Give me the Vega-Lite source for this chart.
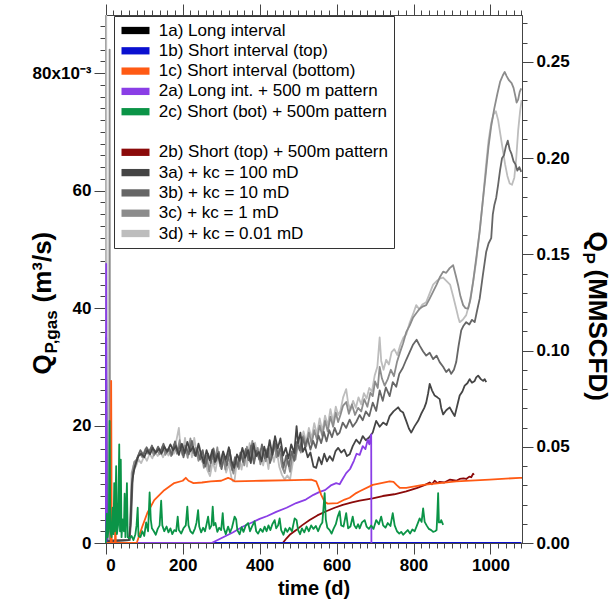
{
"$schema":"https://vega.github.io/schema/vega-lite/v6.json",
"width":417,"height":528,
"autosize":{"type":"none"},
"padding":{"left":105,"top":15,"right":89,"bottom":65},
"config":{"font":"Liberation Sans","view":{"stroke":"#444","strokeWidth":1},
"axis":{"domainColor":"#444","tickColor":"#444","tickWidth":1,"domainWidth":1,"grid":false,"labelFont":"Liberation Sans","labelFontWeight":"bold","labelFontSize":17,"labelColor":"#000","titleFont":"Liberation Sans","titleFontWeight":"bold","titleColor":"#000"}},
"resolve":{"scale":{"y":"independent"},"axis":{"x":"independent","y":"independent"}},
"layer":[
{"data":{"values":[
{"run":"3d","day":0,"q":0},{"run":"3d","day":1,"q":0.097},{"run":"3d","day":2,"q":0.056},{"run":"3d","day":3,"q":0.0005},{"run":"3d","day":62,"q":0.0005},{"run":"3d","day":64,"q":0.005},{"run":"3d","day":67,"q":0.0119},{"run":"3d","day":72,"q":0.0132},{"run":"3d","day":78,"q":0.013},{"run":"3d","day":85,"q":0.0142},{"run":"3d","day":92,"q":0.0136},{"run":"3d","day":100,"q":0.0148},{"run":"3d","day":107,"q":0.014},{"run":"3d","day":114,"q":0.0152},{"run":"3d","day":121,"q":0.0144},{"run":"3d","day":128,"q":0.0156},{"run":"3d","day":135,"q":0.0148},{"run":"3d","day":142,"q":0.0155},{"run":"3d","day":149,"q":0.0146},{"run":"3d","day":156,"q":0.0158},{"run":"3d","day":163,"q":0.0149},{"run":"3d","day":170,"q":0.016},{"run":"3d","day":177,"q":0.0152},{"run":"3d","day":184,"q":0.0176},{"run":"3d","day":190,"q":0.0196},{"run":"3d","day":194,"q":0.0164},{"run":"3d","day":200,"q":0.0152},{"run":"3d","day":206,"q":0.0179},{"run":"3d","day":212,"q":0.0154},{"run":"3d","day":218,"q":0.0174},{"run":"3d","day":224,"q":0.0146},{"run":"3d","day":230,"q":0.0179},{"run":"3d","day":236,"q":0.0152},{"run":"3d","day":243,"q":0.0166},{"run":"3d","day":250,"q":0.0138},{"run":"3d","day":257,"q":0.0149},{"run":"3d","day":264,"q":0.0124},{"run":"3d","day":271,"q":0.0114},{"run":"3d","day":278,"q":0.0138},{"run":"3d","day":285,"q":0.0122},{"run":"3d","day":292,"q":0.015},{"run":"3d","day":299,"q":0.0128},{"run":"3d","day":306,"q":0.0146},{"run":"3d","day":313,"q":0.012},{"run":"3d","day":320,"q":0.0135},{"run":"3d","day":327,"q":0.011},{"run":"3d","day":331,"q":0.0105},{"run":"3d","day":335,"q":0.0108},{"run":"3d","day":339,"q":0.0129},{"run":"3d","day":346,"q":0.0148},{"run":"3d","day":353,"q":0.0125},{"run":"3d","day":360,"q":0.0156},{"run":"3d","day":367,"q":0.013},{"run":"3d","day":374,"q":0.017},{"run":"3d","day":381,"q":0.0142},{"run":"3d","day":388,"q":0.0171},{"run":"3d","day":395,"q":0.0148},{"run":"3d","day":402,"q":0.016},{"run":"3d","day":409,"q":0.0132},{"run":"3d","day":416,"q":0.0154},{"run":"3d","day":423,"q":0.0126},{"run":"3d","day":430,"q":0.0162},{"run":"3d","day":437,"q":0.0138},{"run":"3d","day":444,"q":0.0159},{"run":"3d","day":451,"q":0.013},{"run":"3d","day":458,"q":0.0116},{"run":"3d","day":465,"q":0.0108},{"run":"3d","day":472,"q":0.0115},{"run":"3d","day":479,"q":0.0108},{"run":"3d","day":486,"q":0.0136},{"run":"3d","day":493,"q":0.0152},{"run":"3d","day":500,"q":0.0178},{"run":"3d","day":507,"q":0.0162},{"run":"3d","day":514,"q":0.019},{"run":"3d","day":521,"q":0.0172},{"run":"3d","day":528,"q":0.0196},{"run":"3d","day":535,"q":0.0178},{"run":"3d","day":542,"q":0.0204},{"run":"3d","day":549,"q":0.0185},{"run":"3d","day":556,"q":0.0212},{"run":"3d","day":563,"q":0.019},{"run":"3d","day":570,"q":0.0217},{"run":"3d","day":577,"q":0.02},{"run":"3d","day":584,"q":0.0228},{"run":"3d","day":591,"q":0.0206},{"run":"3d","day":598,"q":0.0232},{"run":"3d","day":604,"q":0.0218},{"run":"3d","day":610,"q":0.0225},{"run":"3d","day":617,"q":0.0248},{"run":"3d","day":621,"q":0.0255},{"run":"3d","day":625,"q":0.0262},{"run":"3d","day":630,"q":0.0238},{"run":"3d","day":636,"q":0.0226},{"run":"3d","day":643,"q":0.0242},{"run":"3d","day":650,"q":0.023},{"run":"3d","day":657,"q":0.0248},{"run":"3d","day":664,"q":0.0236},{"run":"3d","day":671,"q":0.0255},{"run":"3d","day":678,"q":0.0246},{"run":"3d","day":685,"q":0.0264},{"run":"3d","day":692,"q":0.0258},{"run":"3d","day":699,"q":0.0285},{"run":"3d","day":706,"q":0.03},{"run":"3d","day":712,"q":0.035},{"run":"3d","day":716,"q":0.031},{"run":"3d","day":722,"q":0.0295},{"run":"3d","day":729,"q":0.0312},{"run":"3d","day":736,"q":0.0304},{"run":"3d","day":743,"q":0.0325},{"run":"3d","day":750,"q":0.033},{"run":"3d","day":758,"q":0.032},{"run":"3d","day":766,"q":0.0338},{"run":"3d","day":774,"q":0.035},{"run":"3d","day":781,"q":0.0355},{"run":"3d","day":790,"q":0.0375},{"run":"3d","day":799,"q":0.039},{"run":"3d","day":807,"q":0.0405},{"run":"3d","day":815,"q":0.0398},{"run":"3d","day":823,"q":0.0406},{"run":"3d","day":833,"q":0.041},{"run":"3d","day":842,"q":0.0425},{"run":"3d","day":851,"q":0.044},{"run":"3d","day":860,"q":0.0446},{"run":"3d","day":868,"q":0.045},{"run":"3d","day":877,"q":0.0452},{"run":"3d","day":886,"q":0.0446},{"run":"3d","day":895,"q":0.044},{"run":"3d","day":903,"q":0.042},{"run":"3d","day":911,"q":0.0399},{"run":"3d","day":916,"q":0.0385},{"run":"3d","day":920,"q":0.0376},{"run":"3d","day":928,"q":0.038},{"run":"3d","day":937,"q":0.0388},{"run":"3d","day":946,"q":0.041},{"run":"3d","day":955,"q":0.0445},{"run":"3d","day":963,"q":0.048},{"run":"3d","day":972,"q":0.0531},{"run":"3d","day":981,"q":0.0588},{"run":"3d","day":988,"q":0.064},{"run":"3d","day":995,"q":0.0685},{"run":"3d","day":1002,"q":0.0715},{"run":"3d","day":1008,"q":0.073},{"run":"3d","day":1014,"q":0.0735},{"run":"3d","day":1020,"q":0.072},{"run":"3d","day":1026,"q":0.0695},{"run":"3d","day":1032,"q":0.067},{"run":"3d","day":1038,"q":0.0645},{"run":"3d","day":1044,"q":0.0625},{"run":"3d","day":1050,"q":0.0612},{"run":"3d","day":1056,"q":0.061},{"run":"3d","day":1062,"q":0.0622},{"run":"3d","day":1067,"q":0.0655},{"run":"3d","day":1072,"q":0.0702},{"run":"3d","day":1077,"q":0.0735},{"run":"3d","day":1081,"q":0.0754},
{"run":"3c","day":0,"q":0},{"run":"3c","day":9,"q":0},{"run":"3c","day":10,"q":0.084},{"run":"3c","day":11,"q":0.0005},{"run":"3c","day":62,"q":0.0005},{"run":"3c","day":65,"q":0.006},{"run":"3c","day":69,"q":0.012},{"run":"3c","day":74,"q":0.0138},{"run":"3c","day":80,"q":0.0142},{"run":"3c","day":88,"q":0.0154},{"run":"3c","day":95,"q":0.0146},{"run":"3c","day":103,"q":0.016},{"run":"3c","day":110,"q":0.0152},{"run":"3c","day":118,"q":0.0162},{"run":"3c","day":125,"q":0.0149},{"run":"3c","day":133,"q":0.0158},{"run":"3c","day":140,"q":0.0151},{"run":"3c","day":148,"q":0.0165},{"run":"3c","day":155,"q":0.015},{"run":"3c","day":162,"q":0.016},{"run":"3c","day":170,"q":0.0148},{"run":"3c","day":177,"q":0.0168},{"run":"3c","day":185,"q":0.0152},{"run":"3c","day":192,"q":0.0175},{"run":"3c","day":199,"q":0.015},{"run":"3c","day":206,"q":0.0166},{"run":"3c","day":213,"q":0.0145},{"run":"3c","day":220,"q":0.0178},{"run":"3c","day":227,"q":0.0153},{"run":"3c","day":234,"q":0.0162},{"run":"3c","day":241,"q":0.014},{"run":"3c","day":248,"q":0.0156},{"run":"3c","day":255,"q":0.0128},{"run":"3c","day":262,"q":0.0149},{"run":"3c","day":269,"q":0.0122},{"run":"3c","day":276,"q":0.015},{"run":"3c","day":283,"q":0.0134},{"run":"3c","day":290,"q":0.0163},{"run":"3c","day":297,"q":0.0131},{"run":"3c","day":304,"q":0.0152},{"run":"3c","day":311,"q":0.0125},{"run":"3c","day":318,"q":0.0148},{"run":"3c","day":325,"q":0.0133},{"run":"3c","day":332,"q":0.0118},{"run":"3c","day":339,"q":0.0144},{"run":"3c","day":346,"q":0.0126},{"run":"3c","day":353,"q":0.0155},{"run":"3c","day":360,"q":0.0132},{"run":"3c","day":367,"q":0.0164},{"run":"3c","day":374,"q":0.014},{"run":"3c","day":381,"q":0.0174},{"run":"3c","day":388,"q":0.0145},{"run":"3c","day":395,"q":0.0162},{"run":"3c","day":402,"q":0.0134},{"run":"3c","day":409,"q":0.0158},{"run":"3c","day":416,"q":0.0139},{"run":"3c","day":423,"q":0.0165},{"run":"3c","day":430,"q":0.0142},{"run":"3c","day":437,"q":0.0173},{"run":"3c","day":444,"q":0.0146},{"run":"3c","day":451,"q":0.016},{"run":"3c","day":458,"q":0.013},{"run":"3c","day":465,"q":0.0119},{"run":"3c","day":472,"q":0.0143},{"run":"3c","day":479,"q":0.0121},{"run":"3c","day":486,"q":0.0155},{"run":"3c","day":493,"q":0.0142},{"run":"3c","day":500,"q":0.017},{"run":"3c","day":507,"q":0.0154},{"run":"3c","day":514,"q":0.0182},{"run":"3c","day":521,"q":0.0164},{"run":"3c","day":528,"q":0.0188},{"run":"3c","day":535,"q":0.0169},{"run":"3c","day":542,"q":0.0192},{"run":"3c","day":549,"q":0.0176},{"run":"3c","day":556,"q":0.02},{"run":"3c","day":563,"q":0.0182},{"run":"3c","day":570,"q":0.0208},{"run":"3c","day":577,"q":0.019},{"run":"3c","day":584,"q":0.0215},{"run":"3c","day":591,"q":0.0198},{"run":"3c","day":598,"q":0.0222},{"run":"3c","day":604,"q":0.0206},{"run":"3c","day":610,"q":0.0218},{"run":"3c","day":617,"q":0.0234},{"run":"3c","day":625,"q":0.024},{"run":"3c","day":632,"q":0.022},{"run":"3c","day":640,"q":0.0236},{"run":"3c","day":648,"q":0.0218},{"run":"3c","day":656,"q":0.023},{"run":"3c","day":664,"q":0.0224},{"run":"3c","day":672,"q":0.0245},{"run":"3c","day":680,"q":0.0232},{"run":"3c","day":688,"q":0.0256},{"run":"3c","day":694,"q":0.025},{"run":"3c","day":700,"q":0.0275},{"run":"3c","day":707,"q":0.0264},{"run":"3c","day":712,"q":0.03},{"run":"3c","day":718,"q":0.028},{"run":"3c","day":725,"q":0.0268},{"run":"3c","day":733,"q":0.0279},{"run":"3c","day":741,"q":0.0295},{"run":"3c","day":749,"q":0.0284},{"run":"3c","day":757,"q":0.0308},{"run":"3c","day":765,"q":0.0325},{"run":"3c","day":773,"q":0.034},{"run":"3c","day":781,"q":0.0359},{"run":"3c","day":790,"q":0.037},{"run":"3c","day":799,"q":0.0384},{"run":"3c","day":808,"q":0.0392},{"run":"3c","day":816,"q":0.0399},{"run":"3c","day":825,"q":0.0403},{"run":"3c","day":833,"q":0.0405},{"run":"3c","day":842,"q":0.0416},{"run":"3c","day":851,"q":0.0428},{"run":"3c","day":860,"q":0.044},{"run":"3c","day":868,"q":0.0452},{"run":"3c","day":877,"q":0.0462},{"run":"3c","day":885,"q":0.046},{"run":"3c","day":894,"q":0.0468},{"run":"3c","day":903,"q":0.0473},{"run":"3c","day":910,"q":0.0455},{"run":"3c","day":916,"q":0.0439},{"run":"3c","day":922,"q":0.042},{"run":"3c","day":929,"q":0.0405},{"run":"3c","day":935,"q":0.04},{"run":"3c","day":942,"q":0.0399},{"run":"3c","day":948,"q":0.0415},{"run":"3c","day":955,"q":0.0445},{"run":"3c","day":963,"q":0.0485},{"run":"3c","day":972,"q":0.0531},{"run":"3c","day":981,"q":0.0588},{"run":"3c","day":988,"q":0.063},{"run":"3c","day":995,"q":0.0675},{"run":"3c","day":1002,"q":0.071},{"run":"3c","day":1010,"q":0.074},{"run":"3c","day":1018,"q":0.0765},{"run":"3c","day":1025,"q":0.0785},{"run":"3c","day":1032,"q":0.0796},{"run":"3c","day":1037,"q":0.0802},{"run":"3c","day":1042,"q":0.0795},{"run":"3c","day":1048,"q":0.0788},{"run":"3c","day":1055,"q":0.0783},{"run":"3c","day":1060,"q":0.0775},{"run":"3c","day":1065,"q":0.076},{"run":"3c","day":1068,"q":0.075},{"run":"3c","day":1072,"q":0.0755},{"run":"3c","day":1076,"q":0.0768},{"run":"3c","day":1080,"q":0.0774},
{"run":"3b","day":0,"q":0},{"run":"3b","day":5,"q":0.0003},{"run":"3b","day":62,"q":0.0005},{"run":"3b","day":66,"q":0.004},{"run":"3b","day":70,"q":0.011},{"run":"3b","day":75,"q":0.013},{"run":"3b","day":82,"q":0.0145},{"run":"3b","day":90,"q":0.0158},{"run":"3b","day":98,"q":0.015},{"run":"3b","day":106,"q":0.0163},{"run":"3b","day":113,"q":0.0155},{"run":"3b","day":120,"q":0.0166},{"run":"3b","day":128,"q":0.0152},{"run":"3b","day":136,"q":0.0164},{"run":"3b","day":143,"q":0.0156},{"run":"3b","day":150,"q":0.0169},{"run":"3b","day":158,"q":0.0154},{"run":"3b","day":165,"q":0.0161},{"run":"3b","day":172,"q":0.015},{"run":"3b","day":180,"q":0.0173},{"run":"3b","day":187,"q":0.0156},{"run":"3b","day":195,"q":0.0168},{"run":"3b","day":202,"q":0.0146},{"run":"3b","day":209,"q":0.0162},{"run":"3b","day":216,"q":0.0151},{"run":"3b","day":224,"q":0.0174},{"run":"3b","day":231,"q":0.0149},{"run":"3b","day":238,"q":0.016},{"run":"3b","day":245,"q":0.0142},{"run":"3b","day":252,"q":0.0158},{"run":"3b","day":259,"q":0.013},{"run":"3b","day":266,"q":0.0152},{"run":"3b","day":273,"q":0.0136},{"run":"3b","day":280,"q":0.0161},{"run":"3b","day":287,"q":0.014},{"run":"3b","day":294,"q":0.0155},{"run":"3b","day":301,"q":0.0126},{"run":"3b","day":308,"q":0.0148},{"run":"3b","day":315,"q":0.0132},{"run":"3b","day":322,"q":0.0159},{"run":"3b","day":329,"q":0.0124},{"run":"3b","day":336,"q":0.0146},{"run":"3b","day":343,"q":0.013},{"run":"3b","day":350,"q":0.0154},{"run":"3b","day":357,"q":0.0138},{"run":"3b","day":364,"q":0.016},{"run":"3b","day":371,"q":0.0141},{"run":"3b","day":378,"q":0.0166},{"run":"3b","day":385,"q":0.0135},{"run":"3b","day":392,"q":0.0157},{"run":"3b","day":399,"q":0.0142},{"run":"3b","day":406,"q":0.0168},{"run":"3b","day":413,"q":0.0144},{"run":"3b","day":420,"q":0.016},{"run":"3b","day":427,"q":0.0136},{"run":"3b","day":434,"q":0.0152},{"run":"3b","day":441,"q":0.017},{"run":"3b","day":448,"q":0.0148},{"run":"3b","day":455,"q":0.0164},{"run":"3b","day":462,"q":0.0128},{"run":"3b","day":469,"q":0.0149},{"run":"3b","day":476,"q":0.0131},{"run":"3b","day":483,"q":0.0156},{"run":"3b","day":490,"q":0.014},{"run":"3b","day":497,"q":0.0172},{"run":"3b","day":504,"q":0.0158},{"run":"3b","day":511,"q":0.018},{"run":"3b","day":518,"q":0.0165},{"run":"3b","day":525,"q":0.0178},{"run":"3b","day":532,"q":0.0159},{"run":"3b","day":539,"q":0.0174},{"run":"3b","day":546,"q":0.0162},{"run":"3b","day":553,"q":0.0183},{"run":"3b","day":560,"q":0.017},{"run":"3b","day":567,"q":0.0189},{"run":"3b","day":574,"q":0.0173},{"run":"3b","day":581,"q":0.0192},{"run":"3b","day":588,"q":0.018},{"run":"3b","day":595,"q":0.0196},{"run":"3b","day":602,"q":0.0184},{"run":"3b","day":608,"q":0.0188},{"run":"3b","day":616,"q":0.0205},{"run":"3b","day":625,"q":0.0196},{"run":"3b","day":634,"q":0.021},{"run":"3b","day":642,"q":0.0198},{"run":"3b","day":651,"q":0.0206},{"run":"3b","day":660,"q":0.0218},{"run":"3b","day":668,"q":0.0209},{"run":"3b","day":676,"q":0.0224},{"run":"3b","day":685,"q":0.0216},{"run":"3b","day":694,"q":0.0239},{"run":"3b","day":703,"q":0.0225},{"run":"3b","day":712,"q":0.026},{"run":"3b","day":720,"q":0.0242},{"run":"3b","day":728,"q":0.0265},{"run":"3b","day":738,"q":0.025},{"run":"3b","day":746,"q":0.0274},{"run":"3b","day":755,"q":0.0266},{"run":"3b","day":763,"q":0.0288},{"run":"3b","day":772,"q":0.0298},{"run":"3b","day":781,"q":0.0312},{"run":"3b","day":790,"q":0.0325},{"run":"3b","day":799,"q":0.0338},{"run":"3b","day":808,"q":0.0346},{"run":"3b","day":816,"q":0.0336},{"run":"3b","day":825,"q":0.0326},{"run":"3b","day":833,"q":0.0319},{"run":"3b","day":842,"q":0.0324},{"run":"3b","day":851,"q":0.0313},{"run":"3b","day":860,"q":0.0319},{"run":"3b","day":868,"q":0.0308},{"run":"3b","day":877,"q":0.03},{"run":"3b","day":885,"q":0.0291},{"run":"3b","day":892,"q":0.0296},{"run":"3b","day":898,"q":0.0288},{"run":"3b","day":905,"q":0.0295},{"run":"3b","day":911,"q":0.0308},{"run":"3b","day":917,"q":0.0335},{"run":"3b","day":924,"q":0.0362},{"run":"3b","day":930,"q":0.037},{"run":"3b","day":937,"q":0.0376},{"run":"3b","day":945,"q":0.0372},{"run":"3b","day":952,"q":0.038},{"run":"3b","day":959,"q":0.0376},{"run":"3b","day":965,"q":0.0395},{"run":"3b","day":972,"q":0.0416},{"run":"3b","day":980,"q":0.0455},{"run":"3b","day":989,"q":0.0496},{"run":"3b","day":995,"q":0.051},{"run":"3b","day":1002,"q":0.0519},{"run":"3b","day":1006,"q":0.0559},{"run":"3b","day":1010,"q":0.0575},{"run":"3b","day":1015,"q":0.0588},{"run":"3b","day":1020,"q":0.061},{"run":"3b","day":1025,"q":0.0635},{"run":"3b","day":1030,"q":0.0655},{"run":"3b","day":1035,"q":0.066},{"run":"3b","day":1040,"q":0.0675},{"run":"3b","day":1045,"q":0.0685},{"run":"3b","day":1050,"q":0.067},{"run":"3b","day":1055,"q":0.0662},{"run":"3b","day":1060,"q":0.065},{"run":"3b","day":1065,"q":0.0645},{"run":"3b","day":1070,"q":0.0634},{"run":"3b","day":1075,"q":0.064},{"run":"3b","day":1080,"q":0.0632},
{"run":"3a","day":0,"q":0},{"run":"3a","day":5,"q":0.0003},{"run":"3a","day":60,"q":0.0005},{"run":"3a","day":64,"q":0.003},{"run":"3a","day":68,"q":0.01},{"run":"3a","day":72,"q":0.012},{"run":"3a","day":78,"q":0.0135},{"run":"3a","day":85,"q":0.0148},{"run":"3a","day":92,"q":0.0152},{"run":"3a","day":100,"q":0.0146},{"run":"3a","day":108,"q":0.0158},{"run":"3a","day":115,"q":0.0151},{"run":"3a","day":122,"q":0.0162},{"run":"3a","day":130,"q":0.0154},{"run":"3a","day":138,"q":0.016},{"run":"3a","day":145,"q":0.0152},{"run":"3a","day":152,"q":0.0164},{"run":"3a","day":160,"q":0.0156},{"run":"3a","day":168,"q":0.0168},{"run":"3a","day":175,"q":0.0158},{"run":"3a","day":182,"q":0.0165},{"run":"3a","day":190,"q":0.015},{"run":"3a","day":198,"q":0.0169},{"run":"3a","day":205,"q":0.0153},{"run":"3a","day":212,"q":0.0172},{"run":"3a","day":220,"q":0.0156},{"run":"3a","day":227,"q":0.0164},{"run":"3a","day":234,"q":0.0148},{"run":"3a","day":241,"q":0.0169},{"run":"3a","day":248,"q":0.015},{"run":"3a","day":255,"q":0.0136},{"run":"3a","day":262,"q":0.0158},{"run":"3a","day":270,"q":0.0141},{"run":"3a","day":277,"q":0.0159},{"run":"3a","day":284,"q":0.0138},{"run":"3a","day":291,"q":0.0152},{"run":"3a","day":298,"q":0.0135},{"run":"3a","day":305,"q":0.0156},{"run":"3a","day":312,"q":0.0142},{"run":"3a","day":320,"q":0.0163},{"run":"3a","day":327,"q":0.0139},{"run":"3a","day":334,"q":0.0128},{"run":"3a","day":341,"q":0.0151},{"run":"3a","day":348,"q":0.014},{"run":"3a","day":355,"q":0.0162},{"run":"3a","day":362,"q":0.0145},{"run":"3a","day":370,"q":0.0158},{"run":"3a","day":377,"q":0.0136},{"run":"3a","day":384,"q":0.0169},{"run":"3a","day":391,"q":0.0148},{"run":"3a","day":398,"q":0.0155},{"run":"3a","day":405,"q":0.0139},{"run":"3a","day":412,"q":0.0164},{"run":"3a","day":419,"q":0.0146},{"run":"3a","day":426,"q":0.0175},{"run":"3a","day":433,"q":0.015},{"run":"3a","day":440,"q":0.0182},{"run":"3a","day":447,"q":0.0161},{"run":"3a","day":454,"q":0.0178},{"run":"3a","day":461,"q":0.0149},{"run":"3a","day":468,"q":0.0162},{"run":"3a","day":475,"q":0.0144},{"run":"3a","day":482,"q":0.0168},{"run":"3a","day":490,"q":0.0153},{"run":"3a","day":496,"q":0.0199},{"run":"3a","day":500,"q":0.017},{"run":"3a","day":506,"q":0.0188},{"run":"3a","day":512,"q":0.0155},{"run":"3a","day":518,"q":0.0163},{"run":"3a","day":525,"q":0.0146},{"run":"3a","day":532,"q":0.0154},{"run":"3a","day":540,"q":0.013},{"run":"3a","day":547,"q":0.0128},{"run":"3a","day":554,"q":0.0146},{"run":"3a","day":561,"q":0.0134},{"run":"3a","day":568,"q":0.0152},{"run":"3a","day":575,"q":0.0139},{"run":"3a","day":582,"q":0.0148},{"run":"3a","day":590,"q":0.014},{"run":"3a","day":597,"q":0.0156},{"run":"3a","day":604,"q":0.0162},{"run":"3a","day":612,"q":0.0154},{"run":"3a","day":620,"q":0.0159},{"run":"3a","day":627,"q":0.0148},{"run":"3a","day":634,"q":0.0151},{"run":"3a","day":642,"q":0.0165},{"run":"3a","day":651,"q":0.0176},{"run":"3a","day":660,"q":0.0169},{"run":"3a","day":668,"q":0.0182},{"run":"3a","day":676,"q":0.0175},{"run":"3a","day":685,"q":0.018},{"run":"3a","day":694,"q":0.0188},{"run":"3a","day":703,"q":0.0208},{"run":"3a","day":712,"q":0.0198},{"run":"3a","day":721,"q":0.0205},{"run":"3a","day":730,"q":0.0201},{"run":"3a","day":738,"q":0.0216},{"run":"3a","day":748,"q":0.0224},{"run":"3a","day":760,"q":0.0231},{"run":"3a","day":766,"q":0.0225},{"run":"3a","day":773,"q":0.0222},{"run":"3a","day":781,"q":0.0208},{"run":"3a","day":788,"q":0.0195},{"run":"3a","day":794,"q":0.0188},{"run":"3a","day":803,"q":0.0199},{"run":"3a","day":812,"q":0.0208},{"run":"3a","day":820,"q":0.022},{"run":"3a","day":828,"q":0.023},{"run":"3a","day":833,"q":0.0239},{"run":"3a","day":838,"q":0.0255},{"run":"3a","day":842,"q":0.0271},{"run":"3a","day":848,"q":0.026},{"run":"3a","day":855,"q":0.0251},{"run":"3a","day":862,"q":0.0248},{"run":"3a","day":868,"q":0.0245},{"run":"3a","day":872,"q":0.023},{"run":"3a","day":877,"q":0.0219},{"run":"3a","day":885,"q":0.0226},{"run":"3a","day":894,"q":0.0231},{"run":"3a","day":900,"q":0.0224},{"run":"3a","day":907,"q":0.0216},{"run":"3a","day":914,"q":0.0235},{"run":"3a","day":920,"q":0.0251},{"run":"3a","day":927,"q":0.0258},{"run":"3a","day":933,"q":0.0268},{"run":"3a","day":940,"q":0.0272},{"run":"3a","day":946,"q":0.0279},{"run":"3a","day":952,"q":0.0273},{"run":"3a","day":959,"q":0.0276},{"run":"3a","day":963,"q":0.0282},{"run":"3a","day":968,"q":0.0285},{"run":"3a","day":975,"q":0.0279},{"run":"3a","day":981,"q":0.0276},{"run":"3a","day":985,"q":0.0279},{"run":"3a","day":989,"q":0.0274},
{"run":"2b","day":460,"q":0},{"run":"2b","day":470,"q":0.0008},{"run":"2b","day":480,"q":0.0015},{"run":"2b","day":495,"q":0.0022},{"run":"2b","day":510,"q":0.003},{"run":"2b","day":530,"q":0.0039},{"run":"2b","day":550,"q":0.0047},{"run":"2b","day":573,"q":0.0054},{"run":"2b","day":595,"q":0.006},{"run":"2b","day":616,"q":0.0065},{"run":"2b","day":640,"q":0.0069},{"run":"2b","day":660,"q":0.0072},{"run":"2b","day":694,"q":0.0076},{"run":"2b","day":720,"q":0.008},{"run":"2b","day":750,"q":0.0083},{"run":"2b","day":781,"q":0.0088},{"run":"2b","day":810,"q":0.0094},{"run":"2b","day":830,"q":0.0099},{"run":"2b","day":842,"q":0.0103},{"run":"2b","day":848,"q":0.01},{"run":"2b","day":855,"q":0.0106},{"run":"2b","day":862,"q":0.0102},{"run":"2b","day":868,"q":0.0104},{"run":"2b","day":880,"q":0.0103},{"run":"2b","day":895,"q":0.0108},{"run":"2b","day":911,"q":0.0106},{"run":"2b","day":920,"q":0.0109},{"run":"2b","day":930,"q":0.011},{"run":"2b","day":937,"q":0.0109},{"run":"2b","day":945,"q":0.0113},{"run":"2b","day":950,"q":0.0112},{"run":"2b","day":955,"q":0.0118},{"run":"2b","day":957,"q":0.0116},
{"run":"1a","day":0,"q":0},{"run":"1a","day":1,"q":0.028},{"run":"1a","day":2,"q":0},{"run":"1a","day":1080,"q":0},
{"run":"1b","day":0,"q":0},{"run":"1b","day":1,"q":0.035},{"run":"1b","day":2,"q":0},{"run":"1b","day":1080,"q":0},
{"run":"2a","day":0,"q":0},{"run":"2a","day":1,"q":0.0475},{"run":"2a","day":2,"q":0},{"run":"2a","day":275,"q":0},{"run":"2a","day":300,"q":0.0008},{"run":"2a","day":330,"q":0.0018},{"run":"2a","day":357,"q":0.0028},{"run":"2a","day":380,"q":0.0035},{"run":"2a","day":400,"q":0.0041},{"run":"2a","day":420,"q":0.0046},{"run":"2a","day":443,"q":0.0053},{"run":"2a","day":470,"q":0.006},{"run":"2a","day":495,"q":0.0068},{"run":"2a","day":520,"q":0.0074},{"run":"2a","day":540,"q":0.0082},{"run":"2a","day":556,"q":0.0087},{"run":"2a","day":570,"q":0.009},{"run":"2a","day":585,"q":0.0098},{"run":"2a","day":599,"q":0.0102},{"run":"2a","day":608,"q":0.01},{"run":"2a","day":615,"q":0.0108},{"run":"2a","day":625,"q":0.0119},{"run":"2a","day":635,"q":0.0126},{"run":"2a","day":645,"q":0.014},{"run":"2a","day":652,"q":0.0152},{"run":"2a","day":660,"q":0.015},{"run":"2a","day":668,"q":0.0165},{"run":"2a","day":675,"q":0.016},{"run":"2a","day":681,"q":0.0176},{"run":"2a","day":685,"q":0.0168},{"run":"2a","day":690,"q":0.0185},{"run":"2a","day":690.5,"q":0},
{"run":"1c","day":0,"q":0},{"run":"1c","day":13,"q":0},{"run":"1c","day":14,"q":0.0276},{"run":"1c","day":15.5,"q":0},{"run":"1c","day":24,"q":0},{"run":"1c","day":25,"q":0.0086},{"run":"1c","day":26,"q":0},{"run":"1c","day":80,"q":0},{"run":"1c","day":82,"q":0.0003},{"run":"1c","day":95,"q":0.0028},{"run":"1c","day":108,"q":0.0051},{"run":"1c","day":126,"q":0.0073},{"run":"1c","day":152,"q":0.009},{"run":"1c","day":178,"q":0.0102},{"run":"1c","day":200,"q":0.0106},{"run":"1c","day":208,"q":0.0111},{"run":"1c","day":215,"q":0.0106},{"run":"1c","day":228,"q":0.0102},{"run":"1c","day":250,"q":0.0103},{"run":"1c","day":273,"q":0.0105},{"run":"1c","day":300,"q":0.0106},{"run":"1c","day":318,"q":0.0111},{"run":"1c","day":325,"q":0.0109},{"run":"1c","day":335,"q":0.0105},{"run":"1c","day":404,"q":0.0106},{"run":"1c","day":491,"q":0.0107},{"run":"1c","day":534,"q":0.0108},{"run":"1c","day":547,"q":0.0105},{"run":"1c","day":553,"q":0.0095},{"run":"1c","day":560,"q":0.0082},{"run":"1c","day":569,"q":0.007},{"run":"1c","day":577,"q":0.0067},{"run":"1c","day":603,"q":0.0068},{"run":"1c","day":621,"q":0.0074},{"run":"1c","day":634,"q":0.0077},{"run":"1c","day":651,"q":0.0085},{"run":"1c","day":660,"q":0.0088},{"run":"1c","day":694,"q":0.0099},{"run":"1c","day":738,"q":0.0105},{"run":"1c","day":748,"q":0.0104},{"run":"1c","day":757,"q":0.0098},{"run":"1c","day":764,"q":0.0094},{"run":"1c","day":781,"q":0.0094},{"run":"1c","day":825,"q":0.0099},{"run":"1c","day":868,"q":0.0102},{"run":"1c","day":911,"q":0.0105},{"run":"1c","day":998,"q":0.0108},{"run":"1c","day":1076,"q":0.0111},{"run":"1c","day":1082,"q":0.0111},
{"run":"2c","day":0,"q":0},{"run":"2c","day":3,"q":0.005},{"run":"2c","day":5,"q":0.001},{"run":"2c","day":8,"q":0.003},{"run":"2c","day":10,"q":0.0208},{"run":"2c","day":12,"q":0.002},{"run":"2c","day":15,"q":0.001},{"run":"2c","day":18,"q":0.006},{"run":"2c","day":20,"q":0.0015},{"run":"2c","day":22,"q":0.0102},{"run":"2c","day":24,"q":0.002},{"run":"2c","day":27,"q":0.0131},{"run":"2c","day":29,"q":0.0015},{"run":"2c","day":32,"q":0.003},{"run":"2c","day":35,"q":0.0168},{"run":"2c","day":37,"q":0.002},{"run":"2c","day":39,"q":0.0142},{"run":"2c","day":41,"q":0.001},{"run":"2c","day":44,"q":0.004},{"run":"2c","day":47,"q":0.002},{"run":"2c","day":49,"q":0.0084},{"run":"2c","day":51,"q":0.001},{"run":"2c","day":55,"q":0.0102},{"run":"2c","day":57,"q":0.001},{"run":"2c","day":62,"q":0.0008},{"run":"2c","day":67,"q":0.0012},{"run":"2c","day":72,"q":0.0005},{"run":"2c","day":77,"q":0.0015},{"run":"2c","day":80,"q":0.003},{"run":"2c","day":83,"q":0.006},{"run":"2c","day":85,"q":0.0012},{"run":"2c","day":90,"q":0.001},{"run":"2c","day":95,"q":0.002},{"run":"2c","day":100,"q":0.0012},{"run":"2c","day":105,"q":0.0035},{"run":"2c","day":110,"q":0.002},{"run":"2c","day":114,"q":0.0086},{"run":"2c","day":117,"q":0.004},{"run":"2c","day":120,"q":0.0025},{"run":"2c","day":125,"q":0.002},{"run":"2c","day":130,"q":0.0014},{"run":"2c","day":135,"q":0.0024},{"run":"2c","day":140,"q":0.003},{"run":"2c","day":144,"q":0.0072},{"run":"2c","day":147,"q":0.003},{"run":"2c","day":152,"q":0.002},{"run":"2c","day":158,"q":0.0028},{"run":"2c","day":163,"q":0.0018},{"run":"2c","day":168,"q":0.0025},{"run":"2c","day":173,"q":0.0015},{"run":"2c","day":178,"q":0.0022},{"run":"2c","day":183,"q":0.002},{"run":"2c","day":187,"q":0.0045},{"run":"2c","day":190,"q":0.0022},{"run":"2c","day":196,"q":0.0016},{"run":"2c","day":202,"q":0.0025},{"run":"2c","day":208,"q":0.003},{"run":"2c","day":212,"q":0.0062},{"run":"2c","day":215,"q":0.003},{"run":"2c","day":220,"q":0.002},{"run":"2c","day":226,"q":0.0016},{"run":"2c","day":232,"q":0.0025},{"run":"2c","day":236,"q":0.0035},{"run":"2c","day":240,"q":0.0056},{"run":"2c","day":243,"q":0.0028},{"run":"2c","day":248,"q":0.0018},{"run":"2c","day":253,"q":0.0026},{"run":"2c","day":258,"q":0.002},{"run":"2c","day":262,"q":0.0032},{"run":"2c","day":266,"q":0.0045},{"run":"2c","day":270,"q":0.0024},{"run":"2c","day":275,"q":0.003},{"run":"2c","day":278,"q":0.0062},{"run":"2c","day":281,"q":0.003},{"run":"2c","day":285,"q":0.0034},{"run":"2c","day":290,"q":0.0019},{"run":"2c","day":295,"q":0.0026},{"run":"2c","day":300,"q":0.0022},{"run":"2c","day":304,"q":0.0051},{"run":"2c","day":307,"q":0.0025},{"run":"2c","day":312,"q":0.0015},{"run":"2c","day":318,"q":0.0028},{"run":"2c","day":323,"q":0.0018},{"run":"2c","day":328,"q":0.0026},{"run":"2c","day":335,"q":0.0045},{"run":"2c","day":339,"q":0.004},{"run":"2c","day":342,"q":0.0022},{"run":"2c","day":348,"q":0.0015},{"run":"2c","day":353,"q":0.0027},{"run":"2c","day":358,"q":0.0019},{"run":"2c","day":364,"q":0.003},{"run":"2c","day":370,"q":0.0034},{"run":"2c","day":375,"q":0.002},{"run":"2c","day":380,"q":0.0028},{"run":"2c","day":387,"q":0.0037},{"run":"2c","day":391,"q":0.002},{"run":"2c","day":396,"q":0.0016},{"run":"2c","day":402,"q":0.0024},{"run":"2c","day":408,"q":0.0019},{"run":"2c","day":413,"q":0.0028},{"run":"2c","day":418,"q":0.002},{"run":"2c","day":423,"q":0.003},{"run":"2c","day":428,"q":0.0022},{"run":"2c","day":433,"q":0.0032},{"run":"2c","day":439,"q":0.0039},{"run":"2c","day":443,"q":0.0025},{"run":"2c","day":448,"q":0.003},{"run":"2c","day":452,"q":0.0042},{"run":"2c","day":456,"q":0.0022},{"run":"2c","day":462,"q":0.0014},{"run":"2c","day":467,"q":0.0025},{"run":"2c","day":472,"q":0.0019},{"run":"2c","day":478,"q":0.0026},{"run":"2c","day":484,"q":0.002},{"run":"2c","day":491,"q":0.0042},{"run":"2c","day":496,"q":0.0039},{"run":"2c","day":500,"q":0.0022},{"run":"2c","day":505,"q":0.0015},{"run":"2c","day":510,"q":0.0025},{"run":"2c","day":516,"q":0.0018},{"run":"2c","day":522,"q":0.0028},{"run":"2c","day":528,"q":0.002},{"run":"2c","day":534,"q":0.003},{"run":"2c","day":540,"q":0.0024},{"run":"2c","day":546,"q":0.0029},{"run":"2c","day":552,"q":0.002},{"run":"2c","day":558,"q":0.003},{"run":"2c","day":563,"q":0.0035},{"run":"2c","day":566,"q":0.006},{"run":"2c","day":569,"q":0.0085},{"run":"2c","day":572,"q":0.004},{"run":"2c","day":576,"q":0.0026},{"run":"2c","day":582,"q":0.0022},{"run":"2c","day":587,"q":0.0016},{"run":"2c","day":592,"q":0.0024},{"run":"2c","day":598,"q":0.0032},{"run":"2c","day":603,"q":0.0045},{"run":"2c","day":608,"q":0.0054},{"run":"2c","day":612,"q":0.003},{"run":"2c","day":618,"q":0.0028},{"run":"2c","day":625,"q":0.0051},{"run":"2c","day":630,"q":0.0025},{"run":"2c","day":636,"q":0.0028},{"run":"2c","day":642,"q":0.0045},{"run":"2c","day":646,"q":0.003},{"run":"2c","day":651,"q":0.0025},{"run":"2c","day":656,"q":0.0032},{"run":"2c","day":660,"q":0.0025},{"run":"2c","day":666,"q":0.0035},{"run":"2c","day":673,"q":0.0039},{"run":"2c","day":678,"q":0.0028},{"run":"2c","day":684,"q":0.0024},{"run":"2c","day":690,"q":0.003},{"run":"2c","day":696,"q":0.0024},{"run":"2c","day":703,"q":0.0039},{"run":"2c","day":710,"q":0.0032},{"run":"2c","day":716,"q":0.0045},{"run":"2c","day":721,"q":0.003},{"run":"2c","day":727,"q":0.0026},{"run":"2c","day":733,"q":0.0034},{"run":"2c","day":740,"q":0.0029},{"run":"2c","day":746,"q":0.0051},{"run":"2c","day":751,"q":0.003},{"run":"2c","day":757,"q":0.002},{"run":"2c","day":763,"q":0.0016},{"run":"2c","day":768,"q":0.0019},{"run":"2c","day":773,"q":0.0014},{"run":"2c","day":779,"q":0.0018},{"run":"2c","day":785,"q":0.0022},{"run":"2c","day":791,"q":0.0016},{"run":"2c","day":797,"q":0.0023},{"run":"2c","day":803,"q":0.002},{"run":"2c","day":809,"q":0.003},{"run":"2c","day":816,"q":0.0042},{"run":"2c","day":821,"q":0.0036},{"run":"2c","day":825,"q":0.0059},{"run":"2c","day":829,"q":0.0036},{"run":"2c","day":834,"q":0.003},{"run":"2c","day":840,"q":0.0024},{"run":"2c","day":846,"q":0.0022},{"run":"2c","day":851,"q":0.0019},{"run":"2c","day":856,"q":0.002},{"run":"2c","day":860,"q":0.0022},{"run":"2c","day":862,"q":0.005},{"run":"2c","day":864,"q":0.0085},{"run":"2c","day":866,"q":0.0035},{"run":"2c","day":870,"q":0.0035},{"run":"2c","day":872,"q":0.0039},{"run":"2c","day":877,"q":0.0031}
]},
"mark":{"type":"line","strokeWidth":1.8,"clip":true,"strokeJoin":"round"},
"encoding":{
"x":{"field":"day","type":"quantitative","scale":{"domain":[-2,1082],"nice":false,"zero":false},
"axis":{"orient":"bottom","values":[0,200,400,600,800,1000],"format":"d","tickSize":11,"labelPadding":3,"title":"time (d)","titleFontSize":20,"titlePadding":5}},
"y":{"field":"q","type":"quantitative","scale":{"domain":[0,0.0899],"nice":false,"zero":false},
"axis":{"orient":"left","values":[0,0.02,0.04,0.06,0.08],"tickSize":11,"labelPadding":3,"labelExpr":"datum.value > 0.07 ? '80x10⁻³' : format(datum.value*1000, 'd')","title":"Q","titleFontSize":26,"titleAngle":-90,"titleAlign":"left","titleBaseline":"alphabetic","titleX":-55,"titleY":359}},
"color":{"field":"run","type":"nominal",
"scale":{"domain":["1a","1b","1c","2a","2c","gap","2b","3a","3b","3c","3d"],"range":["#000000","#0a10d0","#ff5a14","#8a3ee6","#0b9447","transparent","#8b0a0a","#454545","#666666","#8c8c8c","#bdbdbd"]},
"legend":{"orient":"none","legendX":9,"legendY":1,"title":null,"padding":6,"strokeColor":"#333","fillColor":"white","labelFont":"Liberation Sans","labelFontSize":17,"labelFontWeight":"normal","labelColor":"#000","labelLimit":400,"symbolType":"M-1,-0.52H3V0.52H-1Z","symbolSize":196,"symbolStrokeWidth":0,"labelOffset":21.8,"rowPadding":2.3,
"labelExpr":"datum.label == '1a' ? '1a) Long interval' : datum.label == '1b' ? '1b) Short interval (top)' : datum.label == '1c' ? '1c) Short interval (bottom)' : datum.label == '2a' ? '2a) Long int. + 500 m pattern' : datum.label == '2c' ? '2c) Short (bot) + 500m pattern' : datum.label == '2b' ? '2b) Short (top) + 500m pattern' : datum.label == '3a' ? '3a) + kc = 100 mD' : datum.label == '3b' ? '3b) + kc = 10 mD' : datum.label == '3c' ? '3c) + kc = 1 mD' : datum.label == '3d' ? '3d) + kc = 0.01 mD' : ''",
"encode":{"symbols":{"update":{"fill":{"scale":"color","field":"value"},"opacity":{"value":1}}}}}}
}},
{"data":{"values":[]},"mark":{"type":"point","opacity":0},
"encoding":{
"x":{"field":"day","type":"quantitative","axis":{"orient":"top","values":[0,200,400,600,800,1000],"tickSize":11,"labels":false,"domain":false,"title":null}},
"y":{"field":"q","type":"quantitative","scale":{"domain":[0,0.0899],"nice":false,"zero":false},"axis":{"orient":"left","values":[0.002,0.004,0.006,0.008,0.01,0.012,0.014,0.016,0.018,0.022,0.024,0.026,0.028,0.03,0.032,0.034,0.036,0.038,0.042,0.044,0.046,0.048,0.05,0.052,0.054,0.056,0.058,0.062,0.064,0.066,0.068,0.07,0.072,0.074,0.076,0.078,0.082,0.084,0.086,0.088],"tickSize":5,"labels":false,"domain":false,"title":"P,gas","titleFontSize":17,"titleAngle":-90,"titleAlign":"left","titleBaseline":"alphabetic","titleX":-49,"titleY":338}}}},
{"data":{"values":[]},"mark":{"type":"point","opacity":0},
"encoding":{
"x":{"field":"day","type":"quantitative","axis":{"orient":"bottom","values":[20,40,60,80,100,120,140,160,180,220,240,260,280,300,320,340,360,380,420,440,460,480,500,520,540,560,580,620,640,660,680,700,720,740,760,780,820,840,860,880,900,920,940,960,980,1020,1040,1060,1080],"tickSize":5,"labels":false,"domain":false,"title":null}},
"y":{"field":"q","type":"quantitative","scale":{"domain":[0,0.0899],"nice":false,"zero":false},"axis":{"orient":"left","ticks":false,"labels":false,"domain":false,"title":"(m³/s)","titleFontSize":26,"titleAngle":-90,"titleAlign":"left","titleBaseline":"alphabetic","titleX":-55,"titleY":287}}}},
{"data":{"values":[]},"mark":{"type":"point","opacity":0},
"encoding":{
"x":{"field":"day","type":"quantitative","axis":{"orient":"top","values":[20,40,60,80,100,120,140,160,180,220,240,260,280,300,320,340,360,380,420,440,460,480,500,520,540,560,580,620,640,660,680,700,720,740,760,780,820,840,860,880,900,920,940,960,980,1020,1040,1060,1080],"tickSize":5,"labels":false,"domain":false,"title":null}},
"y":{"field":"q","type":"quantitative","scale":{"domain":[0,0.2743],"nice":false,"zero":false},"axis":{"orient":"right","values":[0,0.05,0.1,0.15,0.2,0.25],"format":".2f","tickSize":11,"labelPadding":3,"title":"Q","titleFontSize":26,"titleAngle":90,"titleAlign":"left","titleBaseline":"alphabetic","titleX":66,"titleY":216}}}},
{"data":{"values":[]},"mark":{"type":"point","opacity":0},
"encoding":{
"x":{"field":"day","type":"quantitative","axis":null},
"y":{"field":"q","type":"quantitative","scale":{"domain":[0,0.2743],"nice":false,"zero":false},"axis":{"orient":"right","values":[0.01,0.02,0.03,0.04,0.06,0.07,0.08,0.09,0.11,0.12,0.13,0.14,0.16,0.17,0.18,0.19,0.21,0.22,0.23,0.24,0.26,0.27],"tickSize":5,"labels":false,"domain":false,"title":"P","titleFontSize":17,"titleAngle":90,"titleAlign":"left","titleBaseline":"alphabetic","titleX":60,"titleY":237}}}},
{"data":{"values":[]},"mark":{"type":"point","opacity":0},
"encoding":{
"x":{"field":"day","type":"quantitative","axis":null},
"y":{"field":"q","type":"quantitative","scale":{"domain":[0,0.2743],"nice":false,"zero":false},"axis":{"orient":"right","ticks":false,"labels":false,"domain":false,"title":"(MMSCFD)","titleFontSize":26,"titleAngle":90,"titleAlign":"left","titleBaseline":"alphabetic","titleX":66,"titleY":254}}}}
]
}
